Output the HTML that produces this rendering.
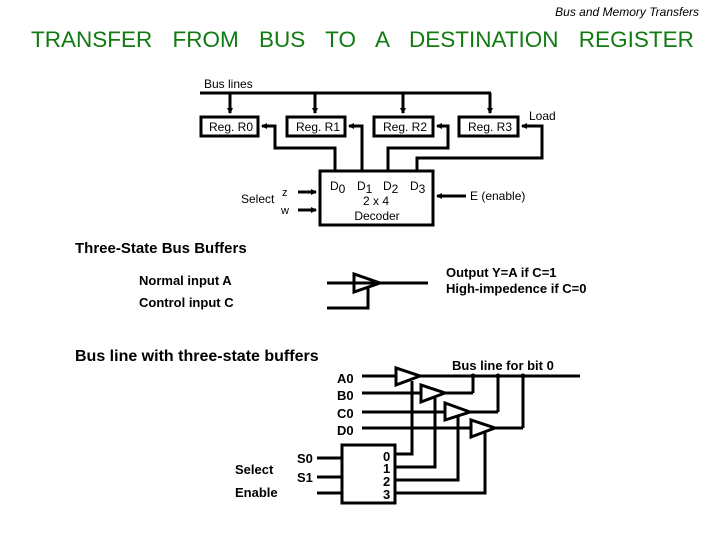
<!DOCTYPE html>
<html><head><style>
body{margin:0;background:#fff;}
svg{display:block;font-family:"Liberation Sans",sans-serif;}
</style></head><body>
<svg width="720" height="540" viewBox="0 0 720 540">
<defs><marker id="a" markerWidth="6" markerHeight="6" refX="5" refY="3" orient="auto" markerUnits="userSpaceOnUse"><path d="M0,0L6,3L0,6z" fill="#000"/></marker></defs>
<text x="699" y="16" font-size="12" font-style="italic" text-anchor="end">Bus and Memory Transfers</text>
<text x="31" y="47" font-size="22.5" fill="#117a11" word-spacing="14">TRANSFER FROM BUS TO A DESTINATION REGISTER</text>
<g stroke="#000" stroke-width="3" fill="none">
<line x1="200" y1="93" x2="491" y2="93"/>
<line x1="230" y1="93" x2="230" y2="113" marker-end="url(#a)"/>
<line x1="315" y1="93" x2="315" y2="113" marker-end="url(#a)"/>
<line x1="403" y1="93" x2="403" y2="113" marker-end="url(#a)"/>
<line x1="490" y1="93" x2="490" y2="113" marker-end="url(#a)"/>
<rect x="201" y="117" width="57" height="19"/>
<rect x="287" y="117" width="58" height="19"/>
<rect x="374" y="117" width="59" height="19"/>
<rect x="459" y="117" width="59" height="19"/>
<rect x="320" y="171" width="113" height="54"/>
<polyline points="335,171 335,148 275,148 275,126 262,126" marker-end="url(#a)"/>
<polyline points="362,171 362,126 349,126" marker-end="url(#a)"/>
<polyline points="388,171 388,148 448,148 448,126 437,126" marker-end="url(#a)"/>
<polyline points="417,171 417,158 542,158 542,126 522,126" marker-end="url(#a)"/>
<line x1="298" y1="192" x2="316" y2="192" marker-end="url(#a)"/>
<line x1="298" y1="210" x2="316" y2="210" marker-end="url(#a)"/>
<line x1="466" y1="196" x2="437" y2="196" marker-end="url(#a)"/>
<line x1="327" y1="283" x2="428" y2="283"/>
<polygon points="354,274 354,292 380,283"/>
<polyline points="327,308 368,308 368,288"/>
<line x1="362" y1="376" x2="580" y2="376"/>
<line x1="362" y1="393" x2="473" y2="393"/><line x1="473" y1="393" x2="473" y2="376"/>
<line x1="362" y1="412" x2="498" y2="412"/><line x1="498" y1="412" x2="498" y2="376"/>
<line x1="362" y1="428" x2="523" y2="428"/><line x1="523" y1="428" x2="523" y2="376"/>
<polygon points="396,368 396,385 420,376" fill="#fff"/>
<polygon points="421,385 421,402 445,393" fill="#fff"/>
<polygon points="445,403 445,420 470,412" fill="#fff"/>
<polygon points="471,420 471,437 495,428" fill="#fff"/>
<rect x="342" y="445" width="53" height="58"/>
<polyline points="395,454 412,454 412,381"/>
<polyline points="395,467 435,467 435,398"/>
<polyline points="395,480 458,480 458,416"/>
<polyline points="395,493 485,493 485,433"/>
<line x1="317" y1="458" x2="342" y2="458"/>
<line x1="317" y1="477" x2="342" y2="477"/>
<line x1="317" y1="493" x2="342" y2="493"/>
</g>
<g fill="#000"><circle cx="473" cy="376" r="2.5"/><circle cx="498" cy="376" r="2.5"/><circle cx="523" cy="376" r="2.5"/></g>
<g font-size="12">
<text x="204" y="88">Bus lines</text>
<text x="209" y="131">Reg. R0</text>
<text x="296" y="131">Reg. R1</text>
<text x="383" y="131">Reg. R2</text>
<text x="468" y="131">Reg. R3</text>
<text x="529" y="120">Load</text>
<text x="241" y="203">Select</text>
<text x="282" y="196" font-size="11">z</text>
<text x="281" y="214" font-size="11">w</text>
<text x="330" y="190">D<tspan dy="3">0</tspan></text>
<text x="357" y="190">D<tspan dy="3">1</tspan></text>
<text x="383" y="190">D<tspan dy="3">2</tspan></text>
<text x="410" y="190">D<tspan dy="3">3</tspan></text>
<text x="376" y="205" text-anchor="middle">2 x 4</text>
<text x="377" y="220" text-anchor="middle">Decoder</text>
<text x="470" y="200">E (enable)</text>
</g>
<text x="75" y="253" font-size="15" font-weight="bold">Three-State Bus Buffers</text>
<g font-size="13" font-weight="bold">
<text x="139" y="285">Normal input A</text>
<text x="139" y="307">Control input C</text>
<text x="446" y="277">Output Y=A  if C=1</text>
<text x="446" y="293">High-impedence if C=0</text>
</g>
<text x="75" y="361" font-size="16" font-weight="bold">Bus line with three-state buffers</text>
<g font-size="13" font-weight="bold">
<text x="452" y="370">Bus line for bit 0</text>
<text x="337" y="383">A0</text>
<text x="337" y="400">B0</text>
<text x="337" y="418">C0</text>
<text x="337" y="435">D0</text>
<text x="297" y="463">S0</text>
<text x="297" y="482">S1</text>
<text x="235" y="474">Select</text>
<text x="235" y="497">Enable</text>
<text x="383" y="461">0</text>
<text x="383" y="473">1</text>
<text x="383" y="486">2</text>
<text x="383" y="499">3</text>
</g>
</svg>
</body></html>
